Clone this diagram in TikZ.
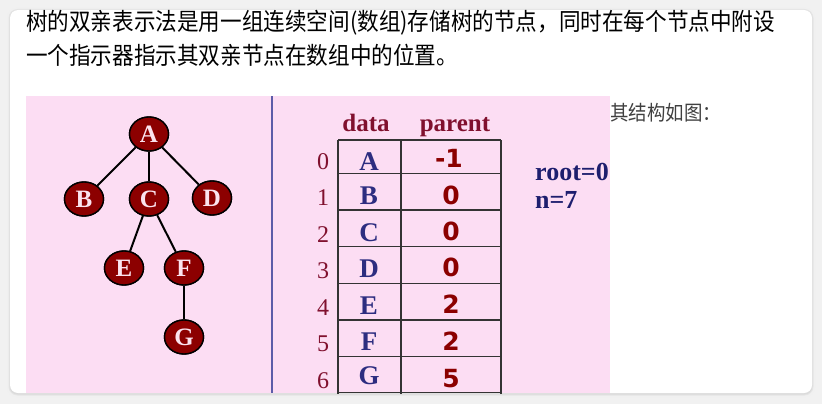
\documentclass[tikz,border=0pt]{standalone}
\usepackage{fontspec}
\setmainfont{Liberation Serif}
\newfontfamily\cjk[FakeStretch=0.9]{Noto Sans CJK SC}
\newfontfamily\dvs{DejaVu Sans}
\usetikzlibrary{shapes.geometric}
\definecolor{pinkbg}{HTML}{FCDDF3}
\definecolor{nodered}{HTML}{8C0000}
\definecolor{nodetxt}{HTML}{FBE3EE}
\definecolor{navy}{HTML}{2D2D80}
\definecolor{rootnavy}{HTML}{1E1E6E}
\definecolor{maroon}{HTML}{80102E}
\definecolor{digred}{HTML}{8B0000}
\definecolor{vline}{HTML}{5C5CA8}
\definecolor{outer}{HTML}{F1F1F1}
\tikzset{
  treenode/.style={ellipse, draw=black, line width=1.4pt, fill=nodered,
    minimum width=39pt, minimum height=34pt, inner sep=0pt,
    text=nodetxt, font=\fontsize{25}{25}\selectfont\bfseries},
  edge/.style={line width=2pt, black},
  grid/.style={line width=1.2pt, draw=black!80},
  idx/.style={text=maroon, font=\fontsize{24}{24}\selectfont, inner sep=0pt},
  datal/.style={text=navy, font=\fontsize{27}{27}\selectfont\bfseries, inner sep=0pt},
  par/.style={text=digred, font=\dvs\fontsize{25}{25}\selectfont\bfseries, inner sep=0pt},
  head/.style={text=maroon, font=\fontsize{25}{25}\selectfont\bfseries, inner sep=0pt},
  rootl/.style={text=rootnavy, font=\fontsize{26}{26}\selectfont\bfseries, inner sep=0pt, anchor=base west},
  cjktxt/.style={font=\cjk\fontsize{24}{24}\selectfont, inner sep=0pt, anchor=base west}
}
\begin{document}
\begin{tikzpicture}[x=1pt,y=-1pt]
\useasboundingbox (0,0) rectangle (822,404);
\fill[outer] (0,0) rectangle (822,404);
% card shadow
\fill[black!6, rounded corners=10pt] (7,8) rectangle (815,397);
\fill[black!10, rounded corners=9pt] (8.5,9) rectangle (813.5,395.5);
\fill[black!14, rounded corners=8pt] (9.5,10) rectangle (812.5,394.5);
% card
\fill[white, rounded corners=8pt] (10,10) rectangle (812,393);
% text
\node[cjktxt] (t1) at (26,31) {树的双亲表示法是用一组连续空间(数组)存储树的节点，同时在每个节点中附设};
\node[cjktxt] (t2) at (26,65) {一个指示器指示其双亲节点在数组中的位置。};
\node[cjktxt, text=black!75, font=\cjk\fontsize{20.5}{20.5}\selectfont] (t3) at (610,121) {其结构如图：};
% picture
\begin{scope}
\clip (26,96) rectangle (610,393);
\fill[pinkbg] (26,96) rectangle (610,393);
\draw[vline, line width=2pt] (272,96) -- (272,393);
% tree
\node[treenode] (A) at (149,134) {A};
\node[treenode] (B) at (84,199) {B};
\node[treenode] (C) at (149,199) {C};
\node[treenode] (D) at (212,198) {D};
\node[treenode] (E) at (124,268) {E};
\node[treenode] (F) at (184,268) {F};
\node[treenode] (G) at (184,337) {G};
\draw[edge] (A) -- (B);
\draw[edge] (A) -- (C);
\draw[edge] (A) -- (D);
\draw[edge] (C) -- (E);
\draw[edge] (C) -- (F);
\draw[edge] (F) -- (G);
% redraw nodes above edges
\node[treenode] at (A) {A};
\node[treenode] at (B) {B};
\node[treenode] at (C) {C};
\node[treenode] at (D) {D};
\node[treenode] at (E) {E};
\node[treenode] at (F) {F};
\node[treenode] at (G) {G};
% table grid
\draw[grid] (338,140) -- (338,394);
\draw[grid] (401,140) -- (401,394);
\draw[grid] (501,140) -- (501,394);
\foreach \yy in {140,173.3,210,246.7,283.3,320,356.7,392.7}
  \draw[grid] (338,\yy) -- (501,\yy);
% headers
\node[head, anchor=base] (hd) at (366,131) {data};
\node[head, anchor=base] (hp) at (455,131) {parent};
% rows
\node[idx, anchor=base] (i0) at (323,169) {0};
\node[idx, anchor=base] (i1) at (323,205) {1};
\node[idx, anchor=base] (i2) at (323,242) {2};
\node[idx, anchor=base] (i3) at (323,278) {3};
\node[idx, anchor=base] (i4) at (323,315) {4};
\node[idx, anchor=base] (i5) at (323,351) {5};
\node[idx, anchor=base] (i6) at (323,388) {6};
\node[datal, anchor=base] (d0) at (369,170) {A};
\node[datal, anchor=base] (d1) at (369,204) {B};
\node[datal, anchor=base] (d2) at (369,241) {C};
\node[datal, anchor=base] (d3) at (369,277) {D};
\node[datal, anchor=base] (d4) at (369,314) {E};
\node[datal, anchor=base] (d5) at (369,350) {F};
\node[datal, anchor=base] (d6) at (369,384) {G};
\node[par, anchor=base] (p0) at (449,167) {-1};
\node[par, anchor=base] (p1) at (451,204) {0};
\node[par, anchor=base] (p2) at (451,240) {0};
\node[par, anchor=base] (p3) at (451,276) {0};
\node[par, anchor=base] (p4) at (451,313) {2};
\node[par, anchor=base] (p5) at (451,350) {2};
\node[par, anchor=base] (p6) at (451,387) {5};
\node[rootl] (r) at (535,180) {root=0};
\node[rootl] (n) at (535,208) {n=7};
\end{scope}
\end{tikzpicture}
\end{document}
